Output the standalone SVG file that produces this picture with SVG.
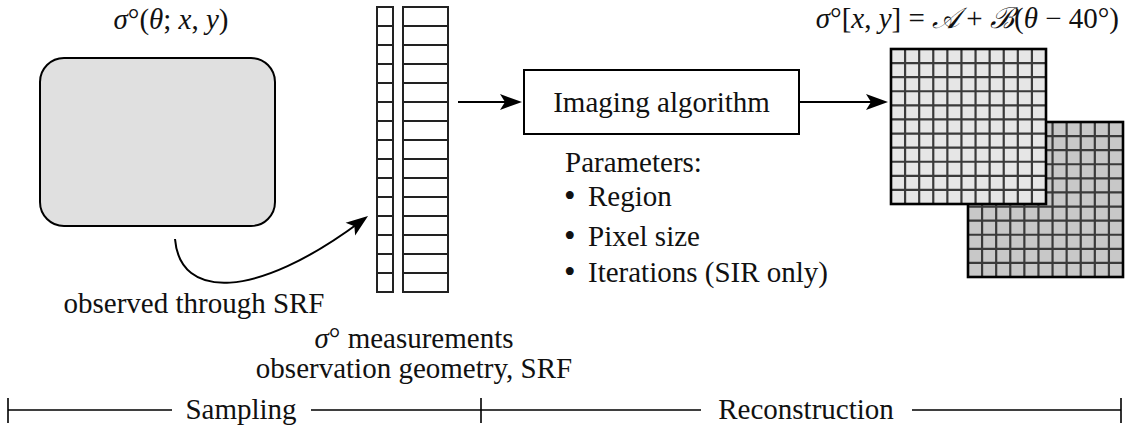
<svg xmlns="http://www.w3.org/2000/svg" width="1128" height="434" viewBox="0 0 1128 434">
<style>
text{font-family:'Liberation Serif','DejaVu Serif',serif;font-size:29px;fill:#111}
.it{font-style:italic}
.conn{fill:none;stroke:#000;stroke-width:2}
.strip{fill:#fff;stroke:#222;stroke-width:2}
.rows{fill:none;stroke:#222;stroke-width:2}
.gl{fill:none;stroke:#3a3a3a;stroke-width:2.2}
.gb{fill:none;stroke:#000;stroke-width:2.6}
.tl{fill:none;stroke:#000;stroke-width:1.6}
.bul{font-size:33px}
</style>
<defs>
<marker id="ah" viewBox="0 -9 22 18" markerWidth="22" markerHeight="18" refX="12" refY="0" orient="auto" markerUnits="userSpaceOnUse">
<path d="M0,-8 L22,0 L0,8 L5,0 Z" fill="#000"/>
</marker>
<path id="gridlines" class="gl" d="M14.09 0V155M28.18 0V155M42.27 0V155M56.36 0V155M70.45 0V155M84.55 0V155M98.64 0V155M112.73 0V155M126.82 0V155M140.91 0V155M0 14.09H155M0 28.18H155M0 42.27H155M0 56.36H155M0 70.45H155M0 84.55H155M0 98.64H155M0 112.73H155M0 126.82H155M0 140.91H155"/>
</defs>

<g id="scene">
<rect x="40" y="58" width="235" height="168" rx="24" ry="24" fill="#e0e0e0" stroke="#000" stroke-width="2"/>
<text x="171" y="29" text-anchor="middle"><tspan class="it">σ</tspan>°(<tspan class="it">θ</tspan>; <tspan class="it">x</tspan>, <tspan class="it">y</tspan>)</text>
<text x="194" y="313" text-anchor="middle">observed through SRF</text>
</g>

<g id="measurements">
<rect class="strip" x="377" y="7" width="16" height="285"/>
<rect class="strip" x="403" y="7" width="45" height="285"/>
<path class="rows" d="M377 26H393M377 45H393M377 64H393M377 83H393M377 102H393M377 121H393M377 140H393M377 159H393M377 178H393M377 197H393M377 216H393M377 235H393M377 254H393M377 273H393M403 26H448M403 45H448M403 64H448M403 83H448M403 102H448M403 121H448M403 140H448M403 159H448M403 178H448M403 197H448M403 216H448M403 235H448M403 254H448M403 273H448"/>
<text x="414" y="348" text-anchor="middle"><tspan class="it">σ</tspan>° measurements</text>
<text x="414" y="378" text-anchor="middle">observation geometry, SRF</text>
</g>

<g id="algorithm">
<rect x="524" y="70" width="275" height="64" fill="#fff" stroke="#000" stroke-width="2"/>
<text x="661.5" y="112" text-anchor="middle" font-size="30">Imaging algorithm</text>
</g>

<g id="parameters">
<text x="565" y="172">Parameters:</text>
<text x="564" y="206"><tspan class="bul" dy="1">•</tspan><tspan x="588" dy="-1">Region</tspan></text>
<text x="564" y="246"><tspan class="bul" dy="1">•</tspan><tspan x="588" dy="-1">Pixel size</tspan></text>
<text x="564" y="282"><tspan class="bul" dy="1">•</tspan><tspan x="588" dy="-1">Iterations (SIR only)</tspan></text>
</g>

<g id="image-back">
<rect x="968" y="122" width="155" height="155" fill="#c8c8c8"/>
<use href="#gridlines" transform="translate(968,122)"/>
<rect class="gb" x="968" y="122" width="155" height="155"/>
</g>

<g id="image-front">
<rect x="891" y="49" width="155" height="155" fill="#e6e6e6"/>
<use href="#gridlines" transform="translate(891,49)"/>
<rect class="gb" x="891" y="49" width="155" height="155"/>
<text x="1119" y="28" font-size="26.5" text-anchor="end"><tspan class="it">σ</tspan>°[<tspan class="it">x</tspan>, <tspan class="it">y</tspan>] = <tspan class="it">𝒜</tspan> + <tspan class="it">ℬ</tspan>(<tspan class="it">θ</tspan> − 40°)</text>
</g>

<g id="connectors">
<path class="conn" d="M175,239 C180,300 255,300 360,222" marker-end="url(#ah)"/>
<path class="conn" d="M458,102 H512" marker-end="url(#ah)"/>
<path class="conn" d="M799,102 H878" marker-end="url(#ah)"/>
</g>

<g id="timeline">
<path class="tl" d="M8,398 V423 M481,398 V423 M1121,398 V423 M8,410 H172 M311,410 H701 M912,410 H1121"/>
<text x="241" y="419" text-anchor="middle">Sampling</text>
<text x="806" y="419" text-anchor="middle">Reconstruction</text>
</g>
</svg>
